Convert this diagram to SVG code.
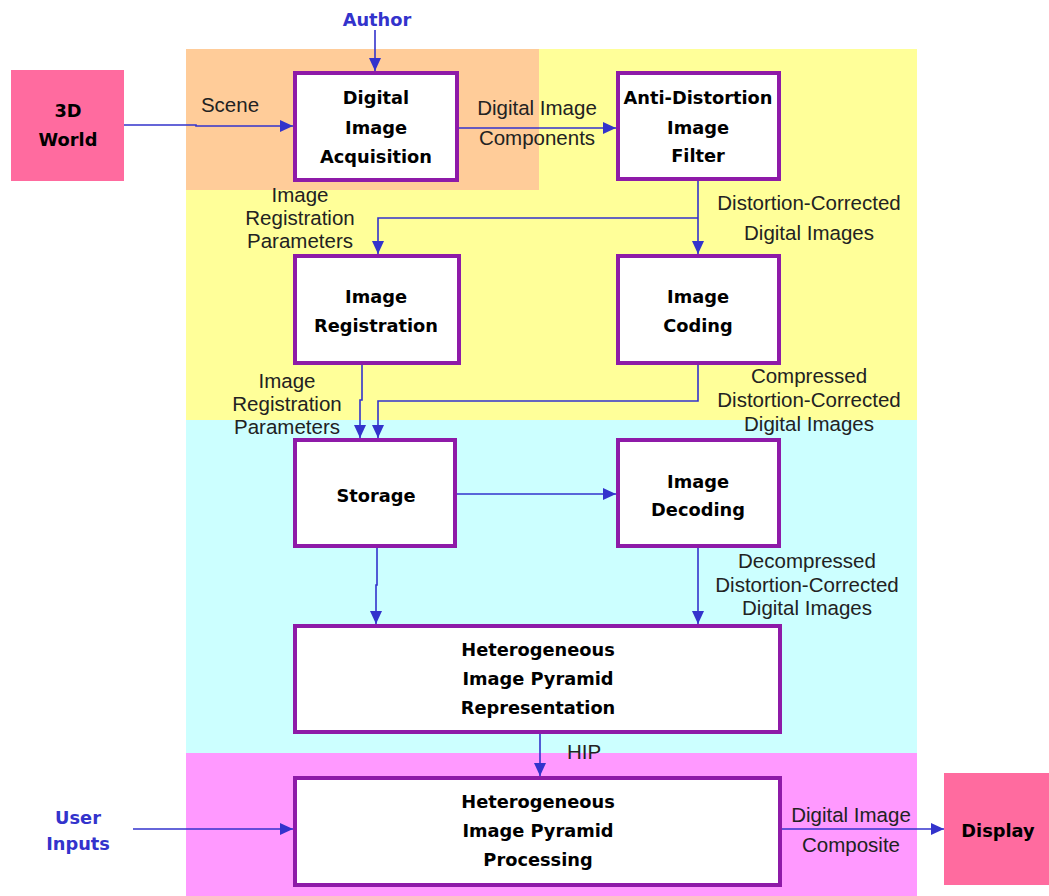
<svg xmlns="http://www.w3.org/2000/svg" width="1049" height="896" viewBox="0 0 1049 896">
<style>
.node{fill:#fff;stroke:#8e1aa8;stroke-width:4}
.pink{fill:#ff6b9f}
.t{font-family:"DejaVu Sans",sans-serif;font-weight:bold;font-size:17.8px;fill:#000;text-anchor:middle}
.b{font-family:"DejaVu Sans",sans-serif;font-weight:bold;font-size:17.8px;fill:#3333cc;text-anchor:middle}
.l{font-family:"Liberation Sans",Arial,sans-serif;font-size:20.5px;fill:#222;text-anchor:middle}
.c{fill:none;stroke:#3333cc;stroke-width:1.6}
</style>
<defs>
<marker id="ah" markerUnits="userSpaceOnUse" markerWidth="14" markerHeight="12" refX="13" refY="6" orient="auto">
<path d="M0,0 L13,6 L0,12 z" fill="#3333cc"/>
</marker>
</defs>
<g id="backgrounds">
<rect x="186" y="49" width="731" height="371" fill="#ffff99"/>
<rect x="186" y="49" width="353" height="141" fill="#ffcc99"/>
<rect x="186" y="420" width="731" height="333" fill="#ccffff"/>
<rect x="186" y="753" width="731" height="143" fill="#ff99ff"/>
</g>
<g id="connectors">
<path class="c" d="M375 30 V71" marker-end="url(#ah)"/>
<path class="c" d="M124 125 H196 V126 H293" marker-end="url(#ah)"/>
<path class="c" d="M459 128 H616" marker-end="url(#ah)"/>
<path class="c" d="M698 181 V254" marker-end="url(#ah)"/>
<path class="c" d="M698 218 H378 V254" marker-end="url(#ah)"/>
<path class="c" d="M362 365 V400 H360 V438" marker-end="url(#ah)"/>
<path class="c" d="M698 365 V401 H378 V438" marker-end="url(#ah)"/>
<path class="c" d="M457 494 H616" marker-end="url(#ah)"/>
<path class="c" d="M377 548 V585 H376 V624" marker-end="url(#ah)"/>
<path class="c" d="M698 548 V624" marker-end="url(#ah)"/>
<path class="c" d="M540 734 V776" marker-end="url(#ah)"/>
<path class="c" d="M133 829 H293" marker-end="url(#ah)"/>
<path class="c" d="M782 829 H944" marker-end="url(#ah)"/>
</g>
<g id="labels">
<text class="l" x="230" y="112">Scene</text>
<text class="l" x="537" y="115">Digital Image</text>
<text class="l" x="537" y="145">Components</text>
<text class="l" x="300" y="202">Image</text>
<text class="l" x="300" y="225">Registration</text>
<text class="l" x="300" y="248">Parameters</text>
<text class="l" x="809" y="210">Distortion-Corrected</text>
<text class="l" x="809" y="240">Digital Images</text>
<text class="l" x="287" y="388">Image</text>
<text class="l" x="287" y="411">Registration</text>
<text class="l" x="287" y="434">Parameters</text>
<text class="l" x="809" y="383">Compressed</text>
<text class="l" x="809" y="407">Distortion-Corrected</text>
<text class="l" x="809" y="431">Digital Images</text>
<text class="l" x="807" y="568">Decompressed</text>
<text class="l" x="807" y="592">Distortion-Corrected</text>
<text class="l" x="807" y="615">Digital Images</text>
<text class="l" x="584" y="759">HIP</text>
<text class="l" x="851" y="822">Digital Image</text>
<text class="l" x="851" y="852">Composite</text>
</g>
<g id="author"><text class="b" x="377" y="26">Author</text></g>
<g id="user-inputs"><text class="b" x="78" y="824">User</text><text class="b" x="78" y="850">Inputs</text></g>
<g id="world3d"><rect class="pink" x="11" y="70" width="113" height="111"/><text class="t" x="68" y="117">3D</text><text class="t" x="68" y="146">World</text></g>
<g id="display"><rect class="pink" x="944" y="773" width="105" height="112"/><text class="t" x="998" y="837">Display</text></g>
<g id="acquisition"><rect class="node" x="295" y="73" width="162" height="107"/><text class="t" x="376" y="104">Digital</text><text class="t" x="376" y="134">Image</text><text class="t" x="376" y="163">Acquisition</text></g>
<g id="filter"><rect class="node" x="618" y="73" width="161" height="106"/><text class="t" x="698" y="104">Anti-Distortion</text><text class="t" x="698" y="134">Image</text><text class="t" x="698" y="162">Filter</text></g>
<g id="registration"><rect class="node" x="295" y="256" width="164" height="107"/><text class="t" x="376" y="303">Image</text><text class="t" x="376" y="332">Registration</text></g>
<g id="coding"><rect class="node" x="618" y="256" width="161" height="107"/><text class="t" x="698" y="303">Image</text><text class="t" x="698" y="332">Coding</text></g>
<g id="storage"><rect class="node" x="295" y="440" width="160" height="106"/><text class="t" x="376" y="502">Storage</text></g>
<g id="decoding"><rect class="node" x="618" y="440" width="161" height="106"/><text class="t" x="698" y="488">Image</text><text class="t" x="698" y="516">Decoding</text></g>
<g id="hip-representation"><rect class="node" x="295" y="626" width="485" height="106"/><text class="t" x="538" y="656">Heterogeneous</text><text class="t" x="538" y="685">Image Pyramid</text><text class="t" x="538" y="714">Representation</text></g>
<g id="hip-processing"><rect class="node" x="295" y="778" width="485" height="107"/><text class="t" x="538" y="808">Heterogeneous</text><text class="t" x="538" y="837">Image Pyramid</text><text class="t" x="538" y="866">Processing</text></g>
</svg>
